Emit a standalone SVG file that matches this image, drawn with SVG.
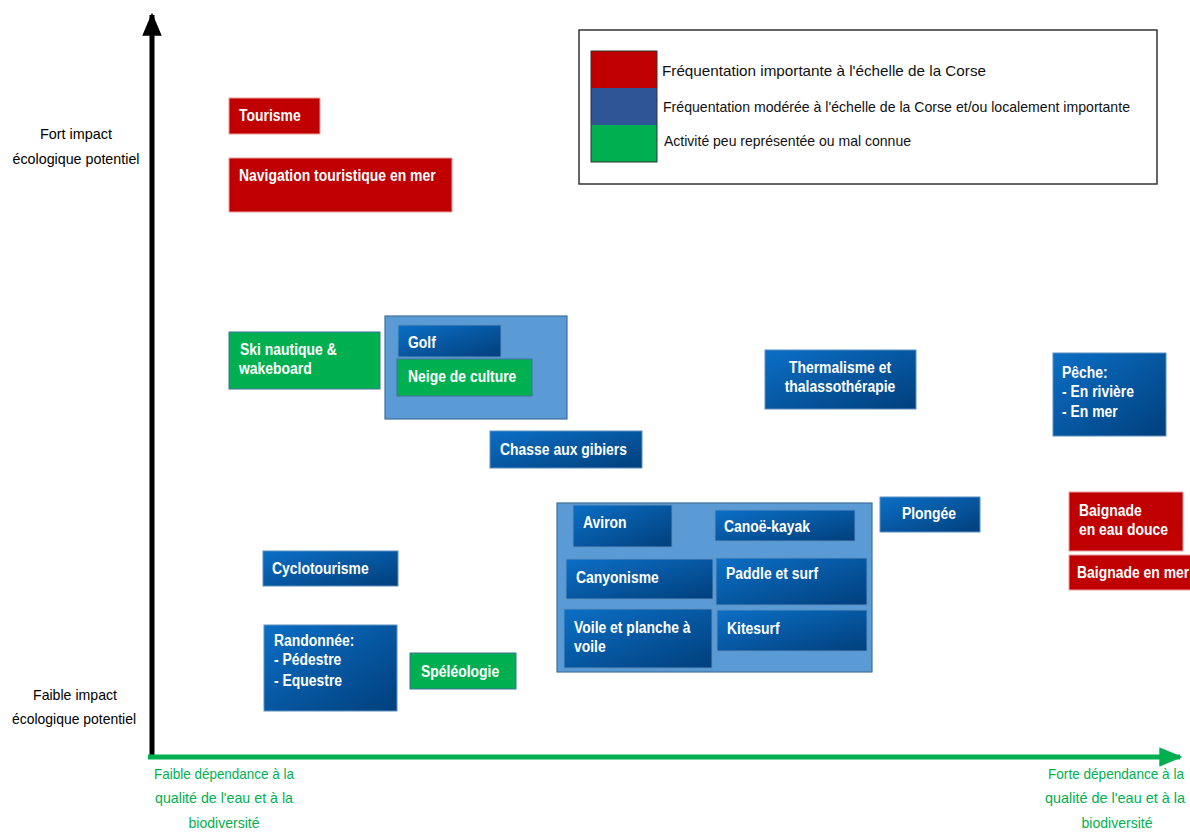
<svg xmlns="http://www.w3.org/2000/svg" width="1190" height="832" viewBox="0 0 1190 832">
<defs>
<linearGradient id="gb" x1="0" y1="0" x2="1" y2="1">
<stop offset="0" stop-color="#0b6fc6"/>
<stop offset="1" stop-color="#013f7c"/>
</linearGradient>
<marker id="ah" viewBox="0 0 10 10" refX="9" refY="5" markerWidth="4.6" markerHeight="3.9" orient="auto" markerUnits="strokeWidth" preserveAspectRatio="none">
<path d="M0,0 L10,5 L0,10 Z" fill="context-stroke"/>
</marker>
<style>
.t{font-family:"Liberation Sans",Arial,sans-serif;font-weight:bold;font-size:17px;fill:#fff}
.ax{font-family:"Liberation Sans",Arial,sans-serif;font-size:15px;text-anchor:middle}
.lg{font-family:"Liberation Sans",Arial,sans-serif;font-size:15px;fill:#111}
.red{fill:#c00000;stroke:#e8a0a0;stroke-width:1}
.grn{fill:#00b050;stroke:#41719c;stroke-width:1}
.blu{fill:url(#gb);stroke:#5d8fc0;stroke-width:1}
.grp{fill:#5b9bd5;stroke:#41719c;stroke-width:1.2}
</style>
</defs>
<rect width="1190" height="832" fill="#fff"/>

<g id="connectors">
<line x1="152" y1="759" x2="152" y2="15" stroke="#000" stroke-width="5" marker-end="url(#ah)"/>
<line x1="148" y1="757" x2="1180" y2="757" stroke="#00b050" stroke-width="5" marker-end="url(#ah)"/>
</g>

<g id="axis-labels">
<text class="ax" x="76" y="139" fill="#000" textLength="72" lengthAdjust="spacingAndGlyphs">Fort impact</text>
<text class="ax" x="76" y="164" fill="#000" textLength="127" lengthAdjust="spacingAndGlyphs">écologique potentiel</text>
<text class="ax" x="75" y="700" fill="#000" textLength="84" lengthAdjust="spacingAndGlyphs">Faible impact</text>
<text class="ax" x="74" y="724" fill="#000" textLength="124" lengthAdjust="spacingAndGlyphs">écologique potentiel</text>
<text class="ax" x="224" y="779" fill="#00b050" textLength="140" lengthAdjust="spacingAndGlyphs">Faible dépendance à la</text>
<text class="ax" x="224" y="803" fill="#00b050" textLength="138" lengthAdjust="spacingAndGlyphs">qualité de l'eau et à la</text>
<text class="ax" x="224" y="828" fill="#00b050" textLength="71" lengthAdjust="spacingAndGlyphs">biodiversité</text>
<text class="ax" x="1116" y="779" fill="#00b050" font-size="14" textLength="136" lengthAdjust="spacingAndGlyphs">Forte dépendance à la</text>
<text class="ax" x="1115" y="803" fill="#00b050" textLength="140" lengthAdjust="spacingAndGlyphs">qualité de l'eau et à la</text>
<text class="ax" x="1117" y="828" fill="#00b050" textLength="71" lengthAdjust="spacingAndGlyphs">biodiversité</text>
</g>

<g id="legend">
<rect x="579" y="30" width="578" height="154" fill="#fff" stroke="#333" stroke-width="1.5"/>
<rect x="591" y="51" width="66" height="37" fill="#c00000"/>
<rect x="591" y="88" width="66" height="37" fill="#2f5597"/>
<rect x="591" y="125" width="66" height="37" fill="#00b050"/>
<rect x="591" y="51" width="66" height="111" fill="none" stroke="#333" stroke-width="1"/>
<text class="lg" x="662" y="76" textLength="324" lengthAdjust="spacingAndGlyphs">Fréquentation importante à l'échelle de la Corse</text>
<text class="lg" x="663" y="112" textLength="467" lengthAdjust="spacingAndGlyphs">Fréquentation modérée à l'échelle de la Corse et/ou localement importante</text>
<text class="lg" x="664" y="146" textLength="247" lengthAdjust="spacingAndGlyphs">Activité peu représentée ou mal connue</text>
</g>

<g id="tourisme"><rect class="red" x="229" y="98" width="91" height="36"/><text class="t" transform="translate(239 121) scale(.82 1)">Tourisme</text></g>
<g id="navigation"><rect class="red" x="229" y="158" width="223" height="54"/><text class="t" transform="translate(239 181) scale(.82 1)">Navigation touristique en mer</text></g>
<g id="ski"><rect class="grn" x="229" y="332" width="151" height="57"/><text class="t" transform="translate(240 355) scale(.82 1)">Ski nautique &amp;</text><text class="t" transform="translate(239 374) scale(.82 1)">wakeboard</text></g>

<g id="groupe-golf"><rect class="grp" x="385" y="316" width="182" height="103"/></g>
<g id="golf"><rect class="blu" x="398" y="325" width="103" height="32"/><text class="t" transform="translate(408 348) scale(.82 1)">Golf</text></g>
<g id="neige"><rect class="grn" x="397" y="359" width="135" height="37"/><text class="t" transform="translate(408 382) scale(.82 1)">Neige de culture</text></g>
<g id="chasse"><rect class="blu" x="490" y="431" width="152" height="37"/><text class="t" transform="translate(500 455) scale(.82 1)">Chasse aux gibiers</text></g>

<g id="thermalisme"><rect class="blu" x="765" y="350" width="151" height="59"/><text class="t" transform="translate(840 373) scale(.82 1)" text-anchor="middle">Thermalisme et</text><text class="t" transform="translate(840 392) scale(.82 1)" text-anchor="middle">thalassothérapie</text></g>
<g id="peche"><rect class="blu" x="1053" y="353" width="113" height="83"/><text class="t" transform="translate(1062 378) scale(.82 1)">Pêche:</text><text class="t" transform="translate(1062 397) scale(.82 1)">- En rivière</text><text class="t" transform="translate(1062 417) scale(.82 1)">- En mer</text></g>
<g id="plongee"><rect class="blu" x="880" y="497" width="100" height="35"/><text class="t" transform="translate(929 519) scale(.82 1)" text-anchor="middle">Plongée</text></g>
<g id="baignade-douce"><rect class="red" x="1069" y="492" width="114" height="59"/><text class="t" transform="translate(1079 516) scale(.82 1)">Baignade</text><text class="t" transform="translate(1079 535) scale(.82 1)">en eau douce</text></g>
<g id="baignade-mer"><rect class="red" x="1069" y="555" width="130" height="35"/><text class="t" transform="translate(1077 578) scale(.82 1)">Baignade en mer</text></g>

<g id="cyclotourisme"><rect class="blu" x="263" y="551" width="135" height="35"/><text class="t" transform="translate(272 574) scale(.82 1)">Cyclotourisme</text></g>
<g id="randonnee"><rect class="blu" x="264" y="625" width="133" height="86"/><text class="t" transform="translate(274 646) scale(.82 1)">Randonnée:</text><text class="t" transform="translate(274 665) scale(.82 1)">- Pédestre</text><text class="t" transform="translate(274 686) scale(.82 1)">- Equestre</text></g>
<g id="speleologie"><rect class="grn" x="410" y="653" width="106" height="36"/><text class="t" transform="translate(421 677) scale(.82 1)">Spéléologie</text></g>

<g id="groupe-eau"><rect class="grp" x="557" y="503" width="315" height="169"/></g>
<g id="aviron"><rect class="blu" x="573" y="505" width="99" height="42"/><text class="t" transform="translate(583 528) scale(.82 1)">Aviron</text></g>
<g id="canoe"><rect class="blu" x="715" y="510" width="140" height="31"/><text class="t" transform="translate(724 532) scale(.82 1)">Canoë-kayak</text></g>
<g id="canyonisme"><rect class="blu" x="566" y="559" width="147" height="40"/><text class="t" transform="translate(576 583) scale(.82 1)">Canyonisme</text></g>
<g id="paddle"><rect class="blu" x="716" y="558" width="151" height="47"/><text class="t" transform="translate(726 579) scale(.82 1)">Paddle et surf</text></g>
<g id="voile"><rect class="blu" x="564" y="609" width="148" height="59"/><text class="t" transform="translate(574 633) scale(.82 1)">Voile et planche à</text><text class="t" transform="translate(574 652) scale(.82 1)">voile</text></g>
<g id="kitesurf"><rect class="blu" x="717" y="610" width="150" height="41"/><text class="t" transform="translate(727 634) scale(.82 1)">Kitesurf</text></g>
</svg>
